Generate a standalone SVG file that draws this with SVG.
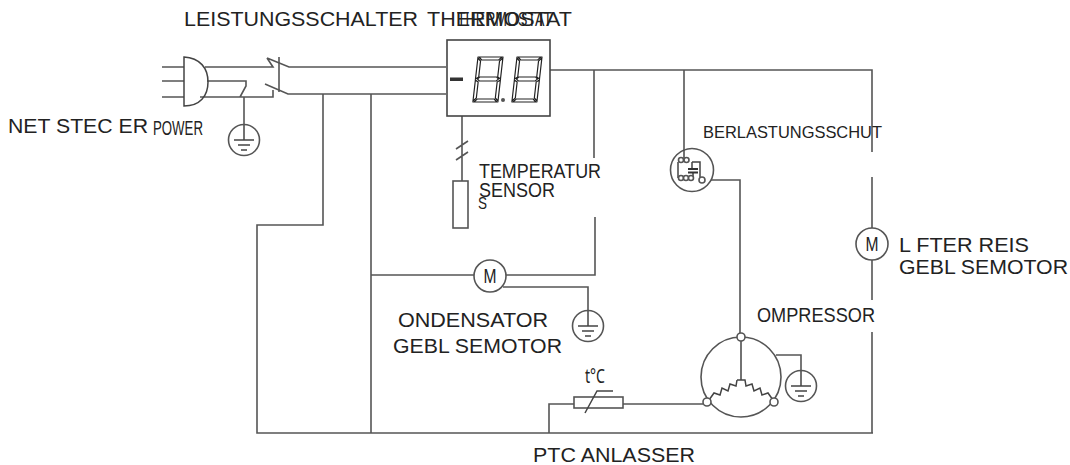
<svg xmlns="http://www.w3.org/2000/svg" width="1070" height="465" viewBox="0 0 1070 465">
<style>
.w{fill:none;stroke:#555;stroke-width:1.6}
.k{fill:none;stroke:#444;stroke-width:1.5}
.n{fill:#fff;stroke:#555;stroke-width:1.6}
.t{font-family:"Liberation Sans",Arial,sans-serif;fill:#222;font-size:20px}
.m{font-family:"Liberation Sans",Arial,sans-serif;fill:#222;font-size:20px}
.s{fill:#fff;stroke:#222;stroke-width:1.2}
</style>
<defs>
<g id="gnd"><circle cx="0" cy="0" r="15.500" class="n"/><path d="M0-15V0M-10 0H10M-6 5H6M-3 10H3" class="k"/></g>
<g id="dig">
<path class="s" d="M1 0H24L21 3H4ZM0 1L3 4V20L0 22ZM25 1L22 4V20L25 22ZM2 22L4 20H21L23 22L21 24H4ZM0 23L3 25V41L0 44ZM25 23L22 25V41L25 44ZM1 45H24L21 42H4Z"/>
</g>
</defs>
<rect width="1070" height="465" fill="#fff"/>
<g id="connectors" class="w">
<path d="M162 67H184M162 81H184M162 97H184"/>
<path d="M205 67H273L267 58M267 58L289 67H446"/>
<path d="M207 81H246V86L240 97M200 97H273V90M265 84L288 94H446"/>
<path d="M279 57V92"/>
<path d="M244 97V125"/>
<path d="M323 94V225H257V433H873"/>
<path d="M371 94V433"/>
<path d="M371 275H474M506 275H595V217M594 70V158"/>
<path d="M503 287H588V311"/>
<path d="M550 70H872V152M872 177V228M872 260V300M872 332V433"/>
<path d="M684 70V150"/>
<path d="M705 180H740V333"/>
<path d="M462 116V181M456 149L468 141M456 160L468 152"/>
<path d="M549 433V404H574M623 404H703"/>
<path d="M776 355H801V371"/>
</g>
<g id="plug"><path class="k" d="M184 57C200 58 208 68 208 82C208 96 200 106 184 106Z" fill="#fff"/></g>
<g id="ground-1"><use href="#gnd" x="244" y="140"/></g>
<g id="ground-2"><use href="#gnd" x="588" y="326"/></g>
<g id="ground-3"><use href="#gnd" x="801" y="386"/></g>
<g id="thermostat">
<rect x="447" y="40" width="103" height="76" fill="#fff" stroke="#444" stroke-width="1.6"/>
<rect x="450" y="77.500" width="13" height="3.500" fill="#333"/>
<use href="#dig" transform="translate(478 57) skewX(-6.500)"/>
<use href="#dig" transform="translate(517 57) skewX(-6.500)"/>
<circle cx="503" cy="100" r="2" fill="#555"/>
</g>
<g id="sensor"><rect x="453" y="181" width="15" height="47" class="n"/></g>
<g id="condenser-motor"><circle cx="490" cy="276" r="16" class="n"/><text class="m" x="483.500" y="283" textLength="13" lengthAdjust="spacingAndGlyphs">M</text></g>
<g id="fan-motor"><circle cx="872" cy="244" r="16" class="n"/><text class="m" x="865.500" y="251" textLength="13" lengthAdjust="spacingAndGlyphs">M</text></g>
<g id="overload">
<circle cx="692" cy="170" r="21.500" class="n"/>
<path class="k" d="M684 150V158M678 162V178M692 162H700V177M692 162V168M693 173V178"/>
<path d="M688 169H698M688 172.500H698" fill="none" stroke="#333" stroke-width="2"/>
<circle cx="681" cy="160" r="2.500" class="n"/><circle cx="686.500" cy="160" r="2.500" class="n"/>
<circle cx="681" cy="178" r="2.500" class="n"/><circle cx="686" cy="178" r="2.500" class="n"/><circle cx="691" cy="178" r="2.500" class="n"/>
<circle cx="702" cy="180" r="3" class="n"/>
</g>
<g id="compressor">
<circle cx="741" cy="377" r="40" class="n"/>
<path class="k" d="M741 337V380M737 380H745L746 386L752 384L754 391L760 388L762 395L768 393L773 400M737 380L736 386L730 384L728 391L722 388L720 395L714 393L709 400"/>
<circle cx="741" cy="337" r="4" class="n"/><circle cx="707" cy="402" r="4" class="n"/><circle cx="774" cy="402" r="4" class="n"/>
</g>
<g id="ptc">
<rect x="574" y="397" width="49" height="11" class="n"/>
<path class="k" d="M585 413L597 391H613"/>
<text x="585" y="383" style="font-family:'Noto Sans',sans-serif;font-size:20px;fill:#222" textLength="20" lengthAdjust="spacingAndGlyphs">t°C</text>
</g>
<g id="labels">
<text class="t" x="184" y="26" textLength="234" lengthAdjust="spacingAndGlyphs">LEISTUNGSSCHALTER</text>
<text class="t" x="427" y="26" textLength="145" lengthAdjust="spacingAndGlyphs">THERMOSTAT</text>
<text class="t" x="457" y="26" textLength="95" lengthAdjust="spacingAndGlyphs">THERMOSTAT</text>
<text class="t" x="8" y="133" textLength="140" lengthAdjust="spacingAndGlyphs">NET STEC ER</text>
<text class="t" x="153" y="135" textLength="50" lengthAdjust="spacingAndGlyphs">POWER</text>
<text class="t" x="703" y="138" textLength="179" lengthAdjust="spacingAndGlyphs" style="font-size:16.500px">BERLASTUNGSSCHUT</text>
<text class="t" x="479" y="178" textLength="122" lengthAdjust="spacingAndGlyphs">TEMPERATUR</text>
<text class="t" x="479" y="197" textLength="76" lengthAdjust="spacingAndGlyphs">SENSOR</text>
<text class="t" x="478" y="209" textLength="9" lengthAdjust="spacingAndGlyphs" style="font-size:17px">S</text>
<text class="t" x="398" y="327" textLength="150" lengthAdjust="spacingAndGlyphs">ONDENSATOR</text>
<text class="t" x="393" y="353" textLength="169" lengthAdjust="spacingAndGlyphs">GEBL SEMOTOR</text>
<text class="t" x="757" y="322" textLength="118" lengthAdjust="spacingAndGlyphs">OMPRESSOR</text>
<text class="t" x="899" y="252" textLength="130" lengthAdjust="spacingAndGlyphs">L FTER REIS</text>
<text class="t" x="899" y="274" textLength="169" lengthAdjust="spacingAndGlyphs">GEBL SEMOTOR</text>
<text class="t" x="533" y="462" textLength="162" lengthAdjust="spacingAndGlyphs">PTC ANLASSER</text>
</g>
</svg>
